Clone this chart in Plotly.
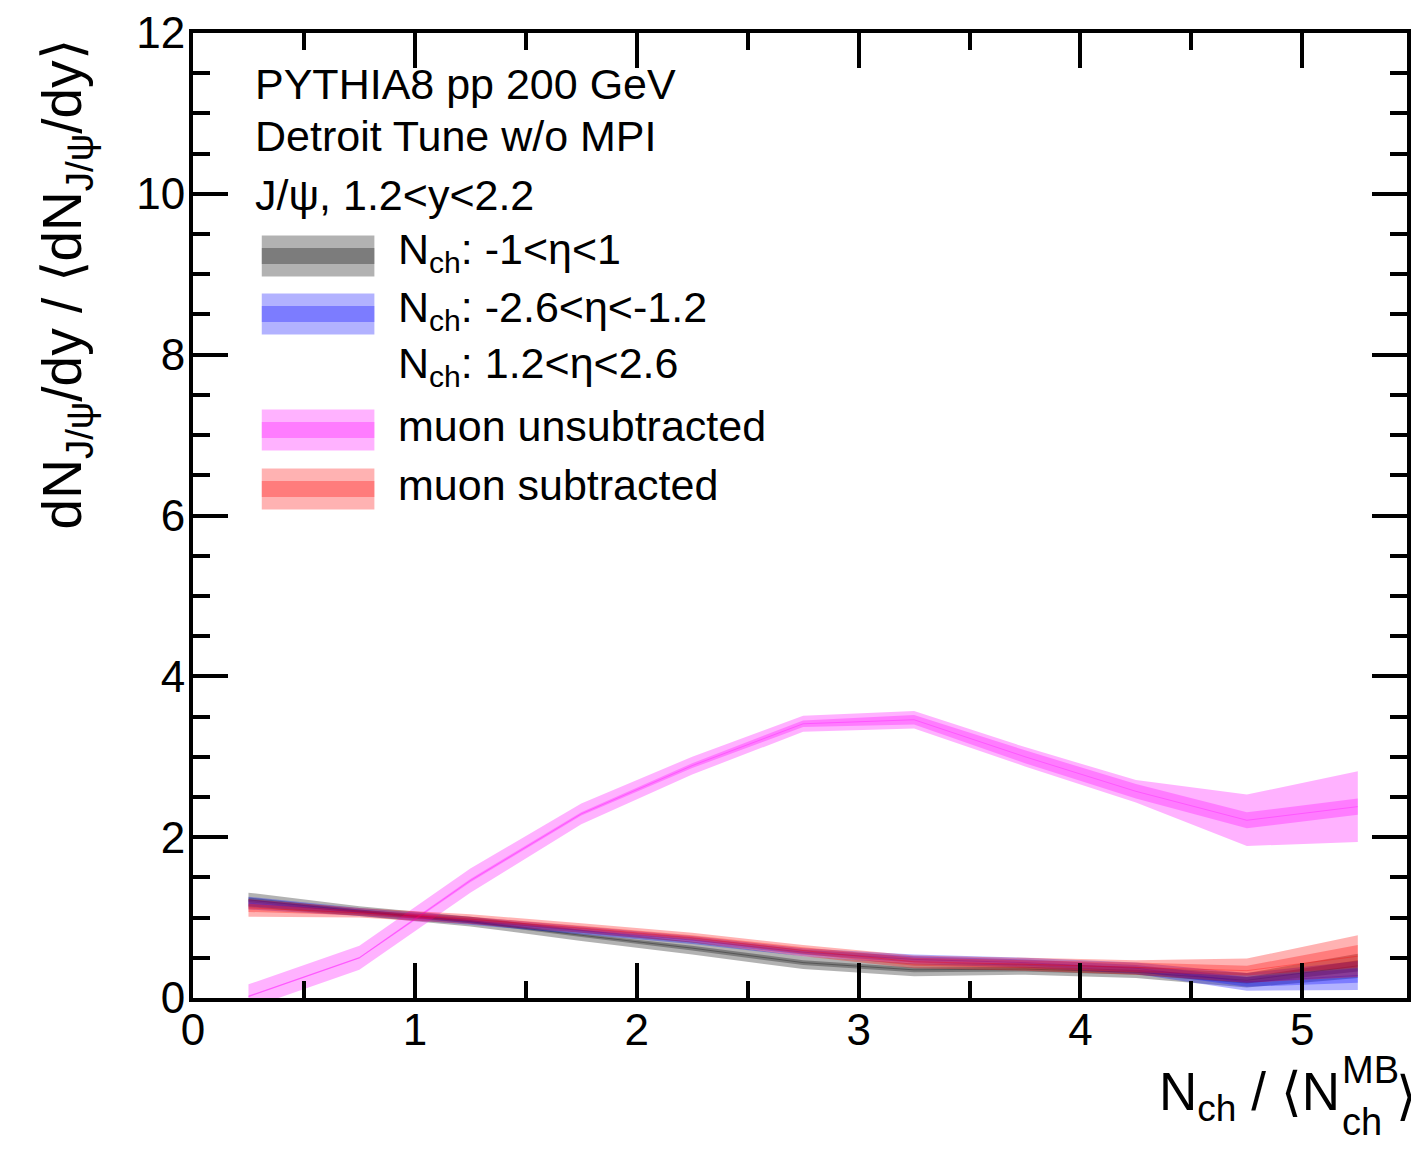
import plotly.graph_objects as go

# ---------------- data ----------------
x_vals = [0.25, 0.75, 1.25, 1.75, 2.25, 2.75, 3.25, 3.75, 4.25, 4.75, 5.25]

gray_c = [1.22, 1.08, 0.95, 0.78, 0.62, 0.44, 0.35, 0.36, 0.32, 0.22, 0.40]
gray_o = [0.09, 0.06, 0.06, 0.07, 0.08, 0.08, 0.08, 0.07, 0.07, 0.09, 0.15]
gray_i = [0.03, 0.02, 0.02, 0.02, 0.03, 0.03, 0.03, 0.03, 0.03, 0.04, 0.07]

blue_c = [1.18, 1.07, 0.96, 0.84, 0.72, 0.57, 0.48, 0.44, 0.37, 0.20, 0.28]
blue_o = [0.08, 0.05, 0.05, 0.05, 0.05, 0.05, 0.06, 0.06, 0.07, 0.11, 0.18]
blue_i = [0.04, 0.03, 0.03, 0.03, 0.03, 0.03, 0.04, 0.04, 0.04, 0.06, 0.09]

mag_c = [0.02, 0.50, 1.46, 2.29, 2.89, 3.41, 3.46, 3.00, 2.57, 2.21, 2.38]
mag_o = [0.15, 0.15, 0.15, 0.13, 0.11, 0.10, 0.11, 0.12, 0.14, 0.32, 0.44]
mag_i = [0.01, 0.01, 0.02, 0.02, 0.03, 0.04, 0.06, 0.08, 0.09, 0.10, 0.10]

red_c = [1.12, 1.06, 0.98, 0.87, 0.75, 0.59, 0.45, 0.42, 0.38, 0.34, 0.52]
red_o = [0.11, 0.06, 0.06, 0.06, 0.06, 0.07, 0.08, 0.08, 0.09, 0.15, 0.26]
red_i = [0.05, 0.03, 0.03, 0.03, 0.03, 0.04, 0.05, 0.05, 0.06, 0.06, 0.14]

legend_labels = [
    "N<sub>ch</sub>: -1&lt;η&lt;1",
    "N<sub>ch</sub>: -2.6&lt;η&lt;-1.2",
    "N<sub>ch</sub>: 1.2&lt;η&lt;2.6",
    "muon unsubtracted",
    "muon subtracted",
]
info_lines = ["PYTHIA8 pp 200 GeV", "Detroit Tune w/o MPI", "J/ψ, 1.2&lt;y&lt;2.2"]

FONT = "Liberation Sans, Arial, Helvetica, sans-serif"

series = [
    (gray_c, gray_o, gray_i, (0, 0, 0)),
    (blue_c, blue_o, blue_i, (0, 0, 255)),
    (mag_c, mag_o, mag_i, (255, 0, 255)),
    (red_c, red_o, red_i, (255, 0, 0)),
]

fig = go.Figure()

def band(c, e, rgb, alpha):
    up = [a + b for a, b in zip(c, e)]
    lo = [a - b for a, b in zip(c, e)]
    return go.Scatter(
        x=x_vals + x_vals[::-1], y=up + lo[::-1], fill="toself", mode="lines",
        line=dict(width=0), fillcolor=f"rgba({rgb[0]},{rgb[1]},{rgb[2]},{alpha})",
        hoverinfo="skip", showlegend=False)

for c, o, i, rgb in series:
    fig.add_trace(band(c, o, rgb, 0.3))
    fig.add_trace(band(c, i, rgb, 0.3))
    fig.add_trace(go.Scatter(x=x_vals, y=c, mode="lines",
                             line=dict(width=1, color=f"rgba({rgb[0]},{rgb[1]},{rgb[2]},0.3)"),
                             hoverinfo="skip", showlegend=False))

W, H = 1411, 1152
L, R, T, B = 193, 0, 33, 154
PW, PH = W - L - R, H - T - B

def px(xp):
    return (xp - L) / PW

def py(yp):
    return (H - B - yp) / PH

axis_common = dict(showline=True, linewidth=4, linecolor="black", mirror="ticks",
                   ticks="inside", ticklen=35, tickwidth=3.5, tickcolor="black",
                   showgrid=False, zeroline=False,
                   tickfont=dict(family=FONT, size=44, color="black"))

fig.update_xaxes(range=[0, (W - L) / 222.6], dtick=1, tick0=0, ticklabelstandoff=-10,
                 minor=dict(dtick=0.5, ticklen=17, tickwidth=3.5, ticks="inside",
                            tickcolor="black", showgrid=False),
                 **axis_common)
fig.update_yaxes(range=[0, 12], dtick=2, tick0=0, ticklabelstandoff=-5,
                 minor=dict(dtick=0.5, ticklen=17, tickwidth=3.5, ticks="inside",
                            tickcolor="black", showgrid=False),
                 **axis_common)

ann = []
# info text
for txt, yc in zip(info_lines, [84, 136, 195]):
    ann.append(dict(text=txt, x=px(253), y=py(yc), xref="paper", yref="paper",
                    xanchor="left", yanchor="middle", showarrow=False,
                    font=dict(family=FONT, size=43, color="black")))

# legend
legend_fill = [(0, 0, 0), (0, 0, 255), None, (255, 0, 255), (255, 0, 0)]
legend_y = [256, 314, 370, 430, 489]
shapes = []
for lab, rgb, yc in zip(legend_labels, legend_fill, legend_y):
    if rgb is not None:
        shapes.append(dict(type="rect", xref="paper", yref="paper",
                           x0=px(262), x1=px(375), y0=py(yc + 20.5), y1=py(yc - 20.5),
                           line=dict(width=0), fillcolor=f"rgba({rgb[0]},{rgb[1]},{rgb[2]},0.3)"))
        shapes.append(dict(type="rect", xref="paper", yref="paper",
                           x0=px(262), x1=px(375), y0=py(yc + 8), y1=py(yc - 8),
                           line=dict(width=0), fillcolor=f"rgba({rgb[0]},{rgb[1]},{rgb[2]},0.3)"))
    ann.append(dict(text=lab, x=px(397), y=py(yc - 4), xref="paper", yref="paper",
                    xanchor="left", yanchor="middle", showarrow=False,
                    font=dict(family=FONT, size=43, color="black")))

# y-axis title
ann.append(dict(text="dN<sub>J/ψ</sub>/dy / ⟨dN<sub>J/ψ</sub>/dy⟩", textangle=-90,
                x=px(66), y=py(284), xref="paper", yref="paper",
                xanchor="center", yanchor="middle", showarrow=False,
                font=dict(family=FONT, size=55, color="black")))

# x-axis title (stacked sub/superscript)
TF = dict(family=FONT, size=53, color="black")
SF = dict(family=FONT, size=38, color="black")
ann.append(dict(text="N<sub>ch</sub> / ⟨N", x=px(1160), y=py(1095), xref="paper", yref="paper",
                xanchor="left", yanchor="middle", showarrow=False, font=TF))
ann.append(dict(text="MB", x=px(1344), y=py(1070), xref="paper", yref="paper",
                xanchor="left", yanchor="middle", showarrow=False, font=SF))
ann.append(dict(text="ch", x=px(1344), y=py(1122), xref="paper", yref="paper",
                xanchor="left", yanchor="middle", showarrow=False, font=SF))
ann.append(dict(text="⟩", x=px(1398), y=py(1095), xref="paper", yref="paper",
                xanchor="left", yanchor="middle", showarrow=False, font=TF))

fig.update_layout(width=W, height=H, margin=dict(l=L, r=R, t=T, b=B, pad=0),
                  paper_bgcolor="white", plot_bgcolor="white",
                  showlegend=False, annotations=ann, shapes=shapes,
                  font=dict(family=FONT, color="black"))

fig.write_html("out.html")
